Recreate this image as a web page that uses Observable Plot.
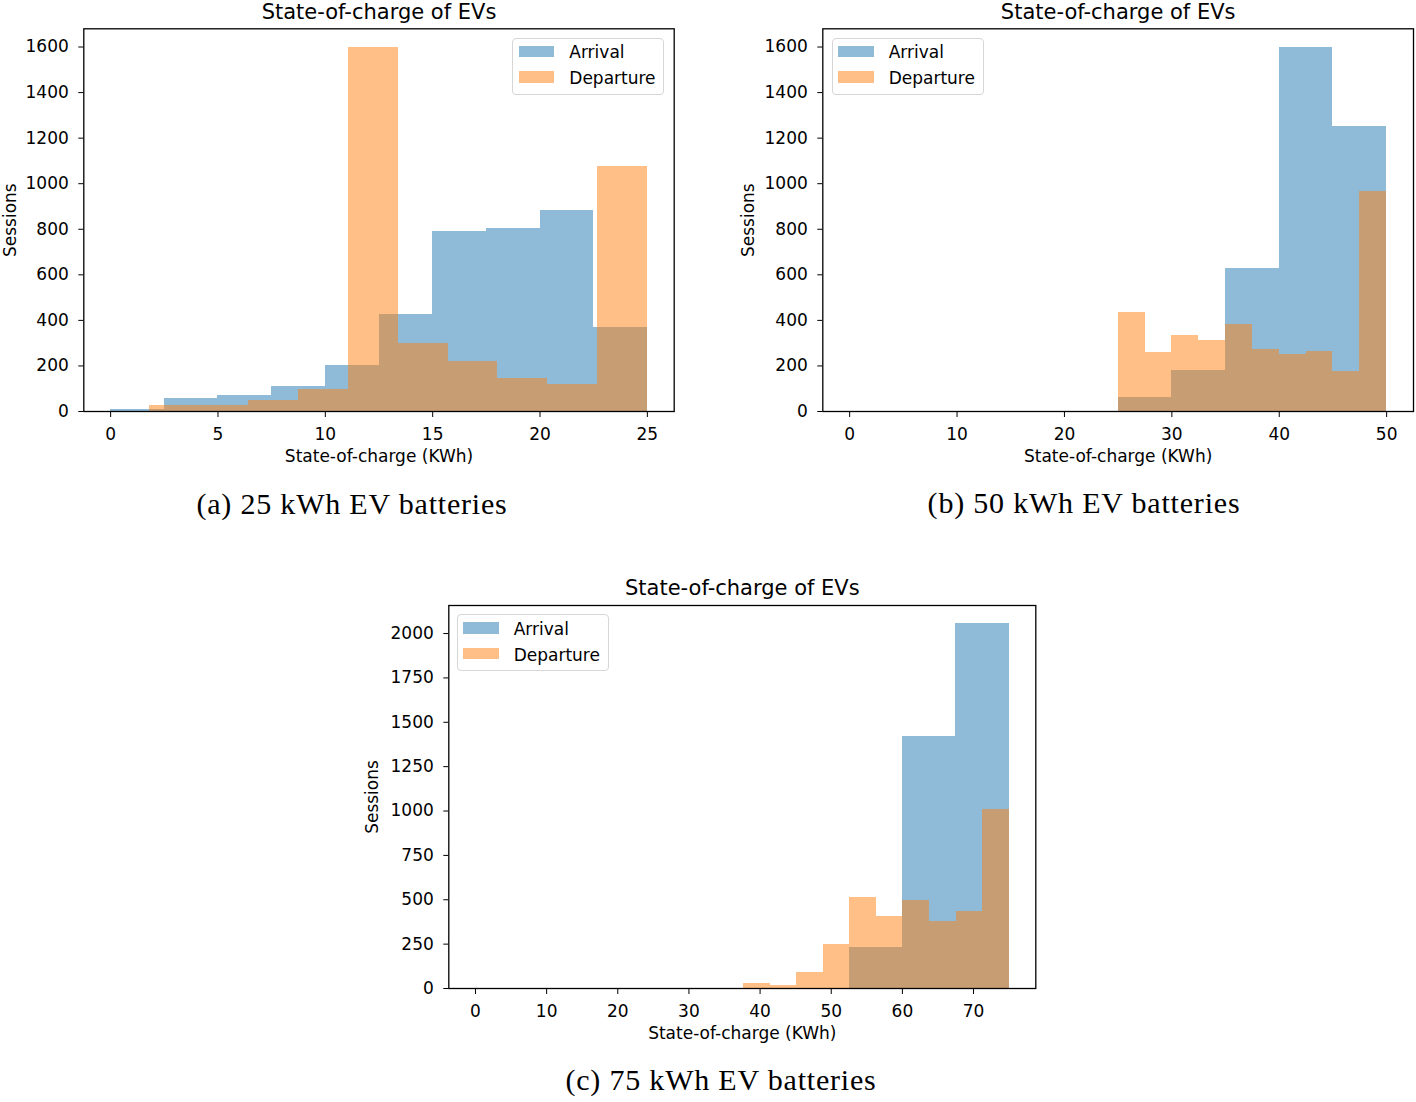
<!DOCTYPE html>
<html>
<head>
<meta charset="utf-8">
<script src="https://cdn.jsdelivr.net/npm/d3@7"></script>
<script src="https://cdn.jsdelivr.net/npm/@observablehq/plot@0.6"></script>
<style>
  html, body { margin: 0; padding: 0; background: white; }
  #root { position: relative; width: 1416px; height: 1102px; background: white; overflow: hidden; }
  .panel { position: absolute; }
  .legend { position: absolute; width: 152px; height: 57px; box-sizing: border-box;
            border: 1px solid #d6d6d6; border-radius: 4px; background: rgba(255,255,255,0.8);
            font-family: "DejaVu Sans", sans-serif; font-size: 17px; color: #000; }
  .legend .sw { position: absolute; left: 5.6px; width: 35.4px; height: 11.6px; }
  .legend .lb { position: absolute; left: 56px; line-height: 17px; white-space: nowrap; }
  .caption { position: absolute; width: 600px; text-align: center; font-family: "Liberation Serif", serif;
             font-size: 30px; line-height: 30px; letter-spacing: 0.8px; color: #000; white-space: nowrap; }
</style>
</head>
<body>
<div id="root"></div>
<script>
// ---------- data ----------
const titleText = "State-of-charge of EVs";
const xLabel = "State-of-charge (KWh)";
const yLabel = "Sessions";
const seriesNames = ["Arrival", "Departure"];
const seriesColors = ["#1f77b4", "#ff7f0e"];
const captions = ["(a) 25 kWh EV batteries", "(b) 50 kWh EV batteries", "(c) 75 kWh EV batteries"];

// (a) 25 kWh
const a_arrEdges = [0, 2.5, 5, 7.5, 10, 12.5, 15, 17.5, 20, 22.5, 25];
const a_arrCounts = [9, 55, 72, 111, 203, 428, 790, 804, 882, 367];
const a_depEdges = [1.8, 4.12, 6.44, 8.76, 11.08, 13.4, 15.72, 18.04, 20.36, 22.68, 25];
const a_depCounts = [25, 25, 49, 96, 1600, 298, 219, 143, 120, 1076];
const a_xTicks = [0, 5, 10, 15, 20, 25];
const a_yTicks = [0, 200, 400, 600, 800, 1000, 1200, 1400, 1600];

// (b) 50 kWh
const b_arrEdges = [25, 30, 35, 40, 45, 50];
const b_arrCounts = [63, 179, 626, 1598, 1251];
const b_depEdges = [25, 27.5, 30, 32.5, 35, 37.5, 40, 42.5, 45, 47.5, 50];
const b_depCounts = [434, 257, 335, 310, 382, 271, 251, 265, 175, 966];
const b_xTicks = [0, 10, 20, 30, 40, 50];
const b_yTicks = [0, 200, 400, 600, 800, 1000, 1200, 1400, 1600];

// (c) 75 kWh
const c_arrEdges = [52.5, 60, 67.5, 75];
const c_arrCounts = [230, 1418, 2055];
const c_depEdges = [37.7, 41.43, 45.16, 48.89, 52.62, 56.35, 60.08, 63.81, 67.54, 71.27, 75];
const c_depCounts = [28, 17, 89, 247, 514, 405, 495, 375, 435, 1009];
const c_xTicks = [0, 10, 20, 30, 40, 50, 60, 70];
const c_yTicks = [0, 250, 500, 750, 1000, 1250, 1500, 1750, 2000];

// ---------- helpers ----------
function bins(edges, counts) {
  return counts.map((c, i) => ({x1: edges[i], x2: edges[i + 1], count: c}));
}

function makePanel(cfg) {
  const arr = bins(cfg.arrEdges, cfg.arrCounts);
  const dep = bins(cfg.depEdges, cfg.depCounts);
  return Plot.plot({
    width: cfg.width, height: cfg.height,
    marginLeft: cfg.ml, marginRight: cfg.mr, marginTop: cfg.mt, marginBottom: cfg.mb,
    x: {domain: cfg.xDomain},
    y: {domain: cfg.yDomain},
    style: {fontFamily: "DejaVu Sans, sans-serif", fontSize: "17px", color: "black", background: "white", overflow: "visible"},
    marks: [
      Plot.rect(arr, {x1: "x1", x2: "x2", y1: d => 0, y2: "count", fill: seriesColors[0], fillOpacity: 0.5, shapeRendering: "crispEdges"}),
      Plot.rect(dep, {x1: "x1", x2: "x2", y1: d => 0, y2: "count", fill: seriesColors[1], fillOpacity: 0.5, shapeRendering: "crispEdges"}),
      Plot.frame({stroke: "black", strokeWidth: 1.3}),
      Plot.axisX({ticks: cfg.xTicks, tickFormat: d => String(d), tickSize: 6, tickPadding: 10, label: null, fontSize: 17}),
      Plot.axisY({ticks: cfg.yTicks, tickFormat: d => String(d), tickSize: 5, tickPadding: 10, label: null, fontSize: 17}),
      Plot.text([titleText], {text: d => d, frameAnchor: "top", textAnchor: "middle", dy: -25, fontSize: 21, fill: "black"}),
      Plot.text([xLabel], {text: d => d, frameAnchor: "bottom", textAnchor: "middle", dy: 50, fontSize: 17, fill: "black"}),
      Plot.text([yLabel], {text: d => d, frameAnchor: "left", textAnchor: "middle", dx: cfg.ylabDx, rotate: -90, fontSize: 17, fill: "black"})
    ]
  });
}

function addLegend(root, left, top) {
  const lg = document.createElement("div");
  lg.className = "legend";
  lg.style.left = left + "px";
  lg.style.top = top + "px";
  seriesNames.forEach((name, i) => {
    const sw = document.createElement("div");
    sw.className = "sw";
    sw.style.top = (i === 0 ? 7 : 32.6) + "px";
    sw.style.background = seriesColors[i];
    sw.style.opacity = 0.5;
    lg.appendChild(sw);
    const lb = document.createElement("div");
    lb.className = "lb";
    lb.style.top = (i === 0 ? 5.8 : 31.4) + "px";
    lb.textContent = name;
    lg.appendChild(lb);
  });
  root.appendChild(lg);
}

function addCaption(root, text, cx, top) {
  const c = document.createElement("div");
  c.className = "caption";
  c.style.left = (cx - 300) + "px";
  c.style.top = top + "px";
  c.textContent = text;
  root.appendChild(c);
}

function place(root, node, left, top, width) {
  const d = document.createElement("div");
  d.className = "panel";
  d.style.left = left + "px";
  d.style.top = top + "px";
  d.style.width = width + "px";
  d.appendChild(node);
  root.appendChild(d);
}

// ---------- build ----------
const root = document.getElementById("root");

place(root, makePanel({
  width: 700, height: 480, ml: 83.3, mr: 26.3, mt: 28.3, mb: 69,
  xDomain: [-1.25, 26.25], yDomain: [0, 1680],
  arrEdges: a_arrEdges, arrCounts: a_arrCounts, depEdges: a_depEdges, depCounts: a_depCounts,
  xTicks: a_xTicks, yTicks: a_yTicks, ylabDx: -73
}), 0, 0, 700);

place(root, makePanel({
  width: 686, height: 480, ml: 92.3, mr: 3, mt: 28.3, mb: 69,
  xDomain: [-2.5, 52.5], yDomain: [0, 1680],
  arrEdges: b_arrEdges, arrCounts: b_arrCounts, depEdges: b_depEdges, depCounts: b_depCounts,
  xTicks: b_xTicks, yTicks: b_yTicks, ylabDx: -74
}), 730, 0, 686);

place(root, makePanel({
  width: 700, height: 480, ml: 88.3, mr: 24.7, mt: 35, mb: 62,
  xDomain: [-3.75, 78.75], yDomain: [0, 2158],
  arrEdges: c_arrEdges, arrCounts: c_arrCounts, depEdges: c_depEdges, depCounts: c_depCounts,
  xTicks: c_xTicks, yTicks: c_yTicks, ylabDx: -76
}), 360, 570, 700);

addLegend(root, 512.3, 37.7);
addLegend(root, 831.7, 37.7);
addLegend(root, 456.7, 614.3);

addCaption(root, captions[0], 352, 489);
addCaption(root, captions[1], 1084, 488);
addCaption(root, captions[2], 721, 1065);
</script>
</body>
</html>
